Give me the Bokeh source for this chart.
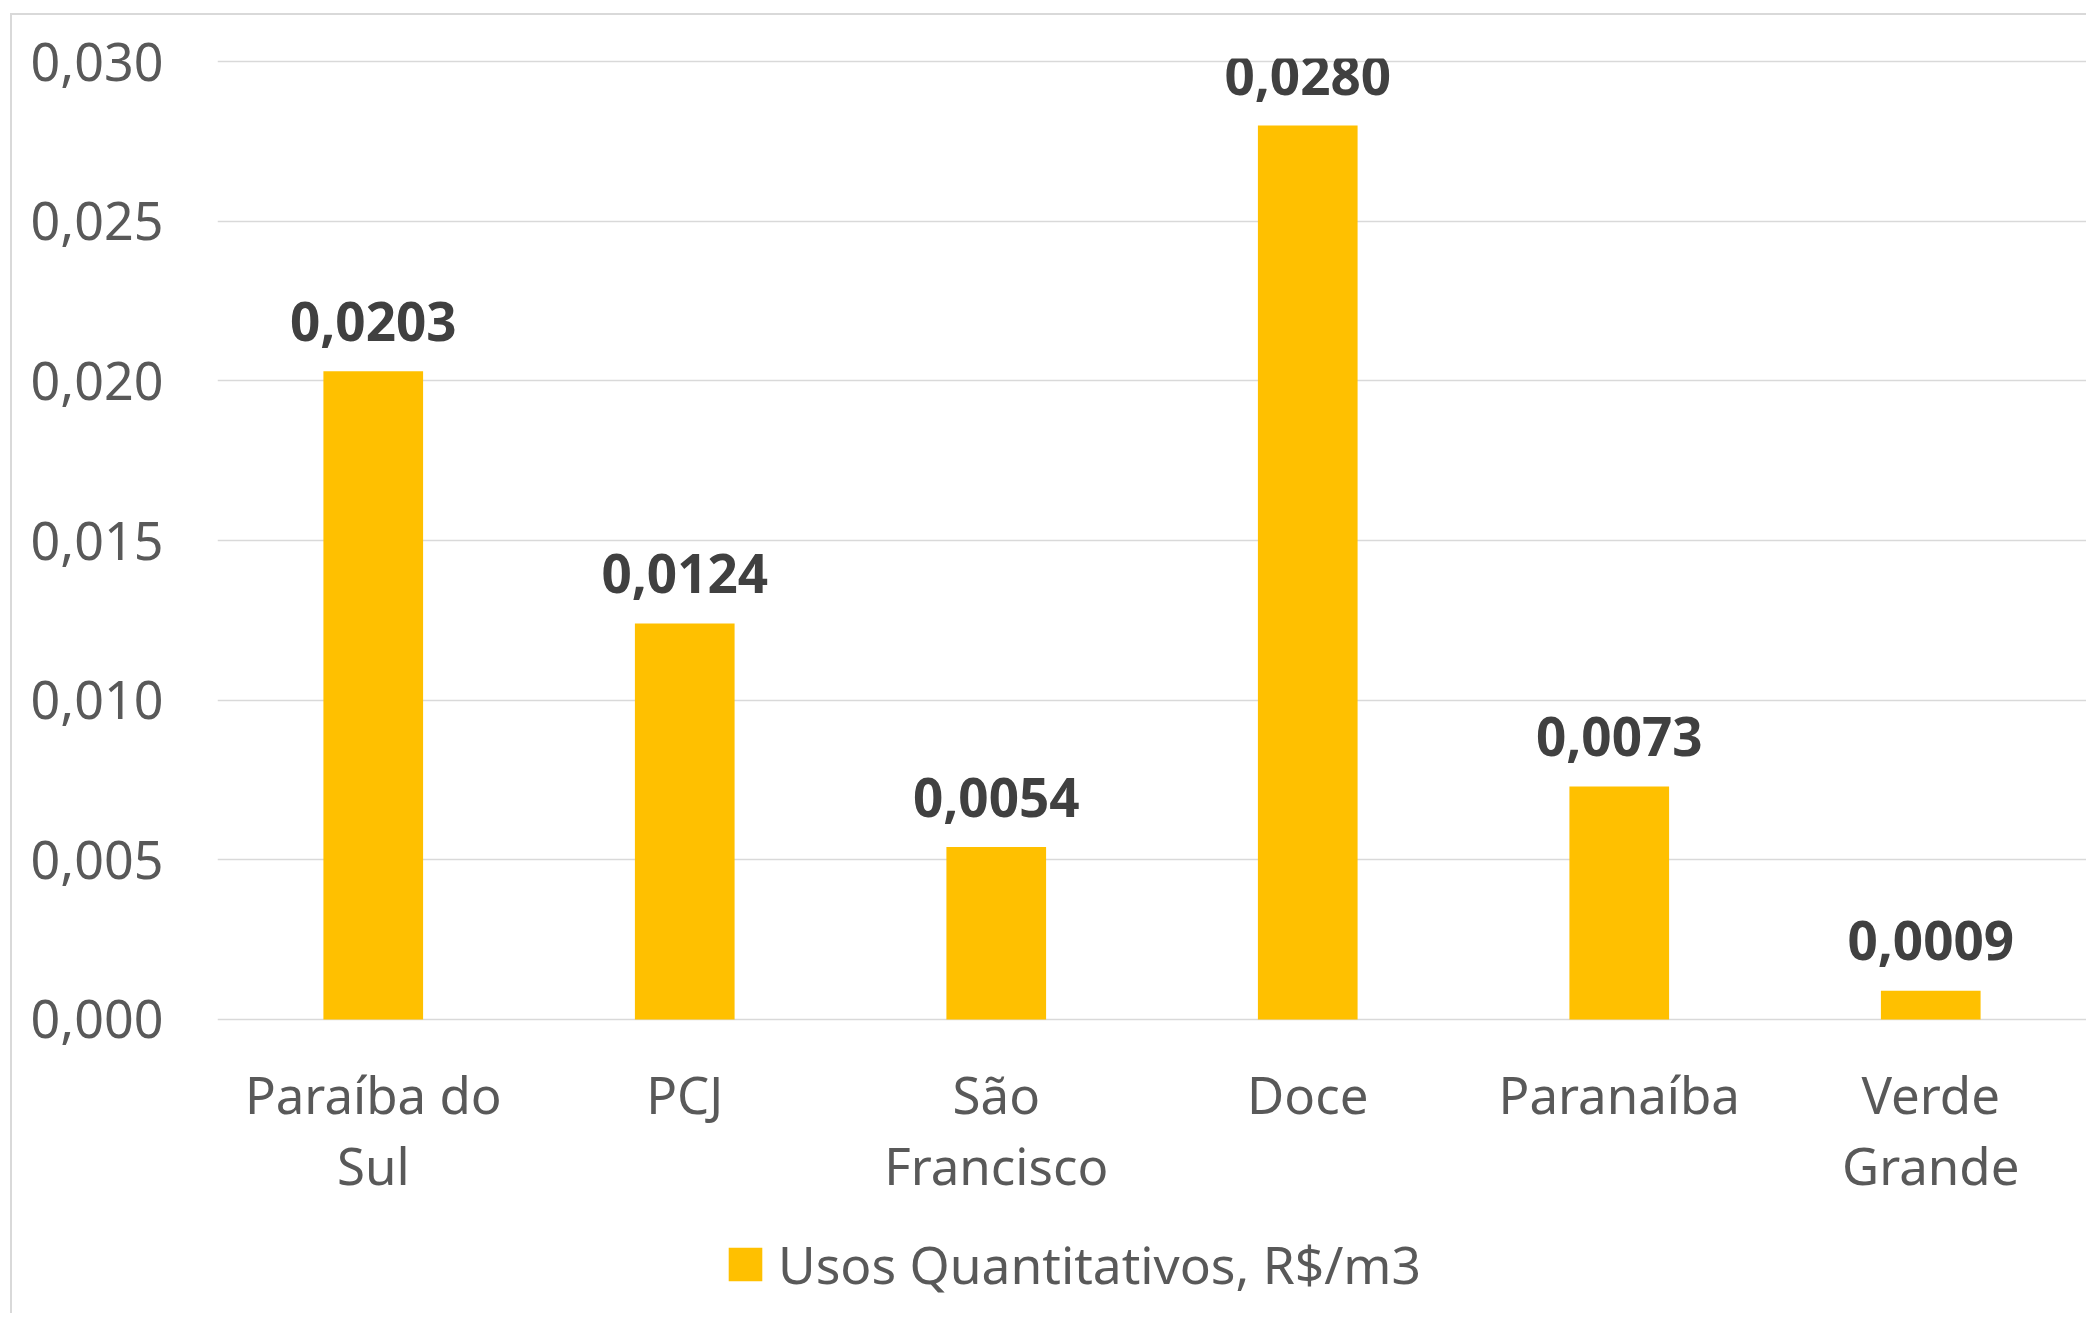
from bokeh.plotting import figure
from bokeh.models import (ColumnDataSource, FixedTicker, CustomJSTickFormatter, LabelSet,
                          Legend, LegendItem, Range1d)
from bokeh.core.properties import value
from bokeh.embed import file_html
from bokeh.resources import INLINE

categories = ["Paraíba do Sul", "PCJ", "São Francisco", "Doce", "Paranaíba", "Verde Grande"]
label_line1 = ["Paraíba do", "PCJ", "São", "Doce", "Paranaíba", "Verde"]
label_line2 = ["Sul", "", "Francisco", "", "", "Grande"]
values = [0.0203, 0.0124, 0.0054, 0.0280, 0.0073, 0.0009]
series_name = "Usos Quantitativos, R$/m3"
y_ticks = [0.0, 0.005, 0.010, 0.015, 0.020, 0.025, 0.030]

value_text = [f"{v:.4f}".replace(".", ",") for v in values]
source = ColumnDataSource(dict(cat=categories, val=values, txt=value_text,
                               l1=label_line1, l2=label_line2, base=[0.0] * len(values)))

FONT = "Noto Sans"
OX, OY = 12, 15          # canvas position on the page (after css offset + border)
W, H = 2076, 1300
y_end = 0.0301
px_per_unit = (1019 - 61.5) / 0.030
top_pad = round(61.5 - (y_end - 0.030) * px_per_unit - OY)
y_start = -(OY + H - 1019) / px_per_unit

p = figure(x_range=categories, y_range=Range1d(y_start, y_end), width=W, height=H,
           output_backend="svg", toolbar_location=None, x_axis_location=None,
           min_border_left=217 - OX, min_border_right=W - (2086 - OX), min_border_top=top_pad,
           min_border_bottom=0)
p.styles = {"border-left": "2px solid #d9d9d9", "border-top": "2px solid #d9d9d9",
            "position": "relative", "top": "13px", "left": "10px"}
p.outline_line_color = None
p.background_fill_color = "white"
p.border_fill_color = "white"

r = p.vbar(x="cat", top="val", width=0.32, source=source, color="#FFC000", line_color=None)

# y axis
p.yaxis.ticker = FixedTicker(ticks=y_ticks)
p.yaxis.formatter = CustomJSTickFormatter(code="return tick.toFixed(3).replace('.', ',');")
p.yaxis.axis_line_color = None
p.yaxis.major_tick_line_color = None
p.yaxis.minor_tick_line_color = None
p.yaxis.major_label_text_font = FONT
p.yaxis.major_label_text_font_size = "52px"
p.yaxis.major_label_text_color = "#595959"
p.yaxis.major_label_standoff = 48

p.xgrid.grid_line_color = None
p.ygrid.grid_line_color = "#d9d9d9"
p.ygrid.grid_line_width = 1.5

# category labels (two centred lines below the zero line)
for col, off in (("l1", -75), ("l2", -146)):
    p.add_layout(LabelSet(x="cat", y="base", text=col, source=source, y_offset=off,
                          text_align="center", text_baseline="middle",
                          text_font=value(FONT), text_font_size="51px",
                          text_color="#595959"))

# value labels
p.add_layout(LabelSet(x="cat", y="val", text="txt", source=source, y_offset=50,
                      text_align="center", text_baseline="middle",
                      text_font=value(FONT), text_font_style="bold", text_font_size="53px",
                      text_color="#404040"))

legend = Legend(items=[LegendItem(label=series_name, renderers=[r])],
                location=(507, 16), orientation="horizontal",
                padding=0, margin=0, border_line_color=None, background_fill_alpha=0,
                glyph_width=42, glyph_height=42, label_standoff=12,
                label_text_font=FONT, label_text_font_size="51.5px", label_text_color="#595959")
p.add_layout(legend, "center")

open("out.html", "w").write(file_html(p, INLINE))
